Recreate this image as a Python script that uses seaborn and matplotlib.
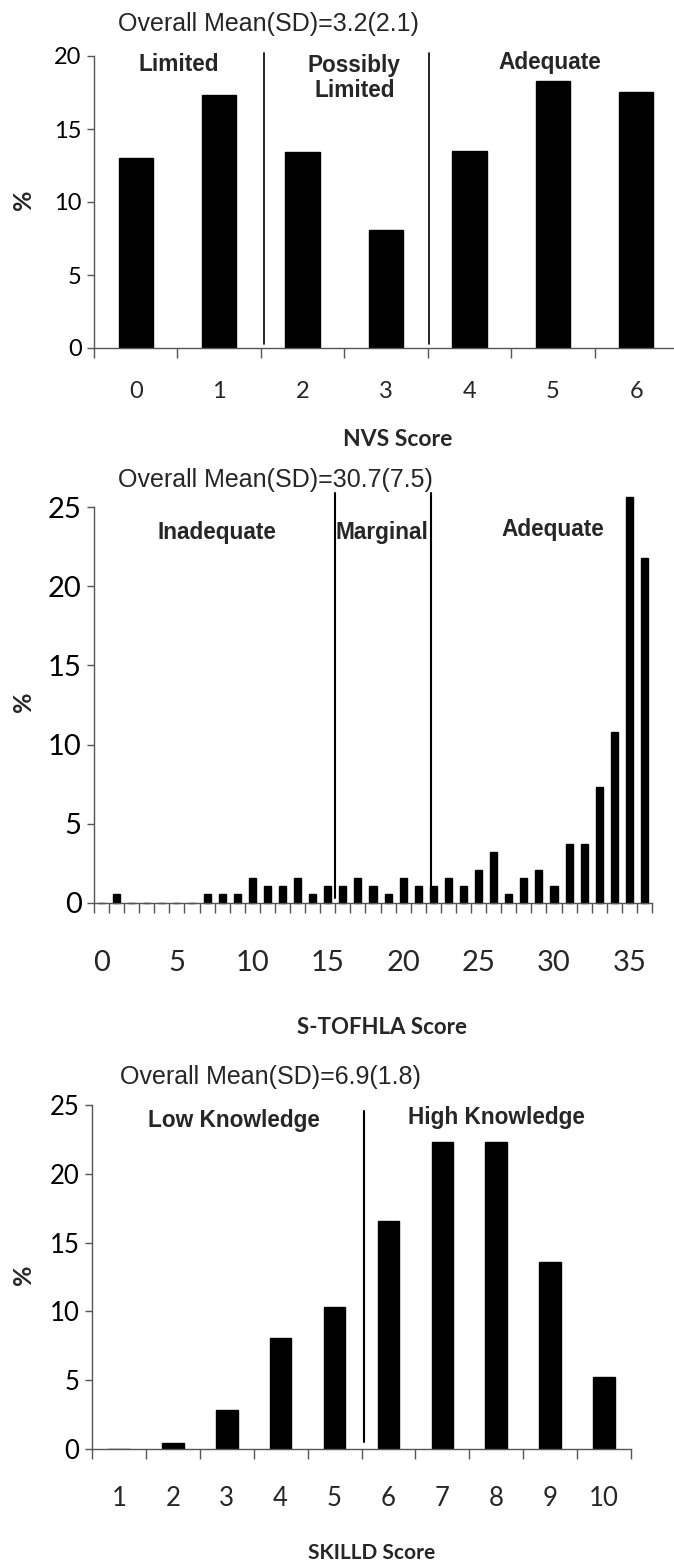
import numpy as np
import pandas as pd
import matplotlib
matplotlib.use("Agg")
import matplotlib.pyplot as plt
import seaborn as sns

# data
nvs_scores = [0, 1, 2, 3, 4, 5, 6]
nvs_pct = [13.0, 17.3, 13.4, 8.1, 13.5, 18.3, 17.5]

tof_scores = list(range(0, 37))
tof_pct = [0, 0.55, 0, 0, 0, 0, 0, 0.55, 0.55, 0.55,
           1.6, 1.1, 1.1, 1.6, 0.55, 1.1, 1.1, 1.6, 1.1, 0.55,
           1.6, 1.1, 1.1, 1.6, 1.1, 2.1, 3.2, 0.55, 1.6, 2.1,
           1.1, 3.7, 3.7, 7.3, 10.8, 25.6, 21.8]

skilld_scores = [1, 2, 3, 4, 5, 6, 7, 8, 9, 10]
skilld_pct = [0, 0.4, 2.8, 8.1, 10.3, 16.6, 22.3, 22.3, 13.6, 5.2]

sns.set_style("ticks")
plt.rcParams["font.family"] = ["Lato", "DejaVu Sans"]

W, H = 674, 1567
fig = plt.figure(figsize=(W / 100, H / 100), dpi=100)


def px_axes(left, right, top, bottom):
    return fig.add_axes([left / W, 1 - bottom / H, (right - left) / W, (bottom - top) / H])


def style(ax, ymax, ystep, ylabsize, xlabsize, xpad):
    ax.set_ylim(0, ymax)
    ax.set_yticks(np.arange(0, ymax + 0.1, ystep))
    sns.despine(ax=ax, right=True, top=True)
    for s in ["left", "bottom"]:
        ax.spines[s].set_linewidth(1.0)
        ax.spines[s].set_color("#555555")
    ax.tick_params(axis="y", length=5, width=1, colors="#555555", labelcolor="black",
                   labelsize=ylabsize, pad=4)
    ax.tick_params(axis="x", which="major", length=0, labelsize=xlabsize, pad=xpad)
    ax.tick_params(axis="x", which="minor", length=7, width=1, colors="#555555")
    ax.set_xlabel("")
    ax.set_ylabel("")


lab = dict(ha="center", va="center", fontsize=16.3, fontweight="bold",
           family=["Liberation Sans", "DejaVu Sans"])

# ---------- panel 1: NVS ----------
ax1 = px_axes(94, 678, 56, 348)
df1 = pd.DataFrame({"score": nvs_scores, "pct": nvs_pct})
sns.barplot(data=df1, x="score", y="pct", color="black", width=0.41, ax=ax1,
            saturation=1, edgecolor="black")
ax1.set_xlim(-0.5, 6.5)
ax1.set_xticks(range(7))
ax1.set_xticklabels([str(s) for s in nvs_scores])
ax1.set_xticks(np.arange(-0.5, 7, 1), minor=True)
style(ax1, 20, 5, 17, 17, 24)
for xv in [1.54, 3.51]:
    ax1.plot([xv, xv], [0.3, 20.2], color="black", lw=1.2, clip_on=False)
ax1.text(0.52, 19.45, "Limited", **lab)
ax1.text(2.62, 18.5, "Possibly\nLimited", linespacing=1.1, **lab)
ax1.text(4.96, 19.55, "Adequate", **lab)

# ---------- panel 2: S-TOFHLA ----------
ax2 = px_axes(94, 652, 507, 903)
df2 = pd.DataFrame({"score": tof_scores, "pct": tof_pct})
sns.barplot(data=df2, x="score", y="pct", color="black", width=0.47, ax=ax2,
            saturation=1, edgecolor="black")
for b in ax2.patches:
    b.set_clip_on(False)
ax2.set_xlim(-0.5, 36.5)
ax2.set_xticks(range(0, 36, 5))
ax2.set_xticklabels([str(s) for s in range(0, 36, 5)])
ax2.set_xticks(np.arange(-0.5, 37, 1), minor=True)
style(ax2, 25, 5, 21, 21, 34)
ax2.plot([15.5, 15.5], [0.3, 25.9], color="black", lw=1.5, clip_on=False)
ax2.plot([21.85, 21.85], [0.3, 25.9], color="black", lw=1.5, clip_on=False)
ax2.text(7.66, 23.4, "Inadequate", **lab)
ax2.text(18.6, 23.4, "Marginal", **lab)
ax2.text(29.9, 23.6, "Adequate", **lab)

# ---------- panel 3: SKILLD ----------
ax3 = px_axes(92, 631, 1105, 1449)
df3 = pd.DataFrame({"score": skilld_scores, "pct": skilld_pct})
sns.barplot(data=df3, x="score", y="pct", color="black", width=0.4, ax=ax3,
            saturation=1, edgecolor="black")
ax3.set_xlim(-0.5, 9.5)
ax3.set_xticks(range(10))
ax3.set_xticklabels([str(s) for s in skilld_scores])
ax3.set_xticks(np.arange(-0.5, 10, 1), minor=True)
style(ax3, 25, 5, 18.5, 18.5, 27)
ax3.plot([4.55, 4.55], [0.5, 24.6], color="black", lw=1.5, clip_on=False)
ax3.text(2.13, 23.9, "Low Knowledge", **lab)
ax3.text(7.0, 24.1, "High Knowledge", **lab)

# titles, axis labels
ttl = dict(ha="left", va="center", fontsize=18, family=["Liberation Sans", "DejaVu Sans"])
fig.text(118 / W, 1 - 24 / H, "Overall Mean(SD)=3.2(2.1)", **ttl)
fig.text(118 / W, 1 - 480 / H, "Overall Mean(SD)=30.7(7.5)", **ttl)
fig.text(120 / W, 1 - 1077 / H, "Overall Mean(SD)=6.9(1.8)", **ttl)

for yy in [200, 702, 1275]:
    fig.text(23 / W, 1 - yy / H, "%", rotation=90, ha="center", va="center",
             fontsize=18, fontweight="bold")

fig.text(398 / W, 1 - 440 / H, "NVS Score", ha="center", va="center",
         fontsize=16.5, fontweight="bold")
fig.text(382 / W, 1 - 1028 / H, "S-TOFHLA Score", ha="center", va="center",
         fontsize=16, fontweight="bold")
fig.text(372 / W, 1 - 1553 / H, "SKILLD Score", ha="center", va="center",
         fontsize=15, fontweight="bold")

fig.savefig("out.png", dpi=100, facecolor="white")
